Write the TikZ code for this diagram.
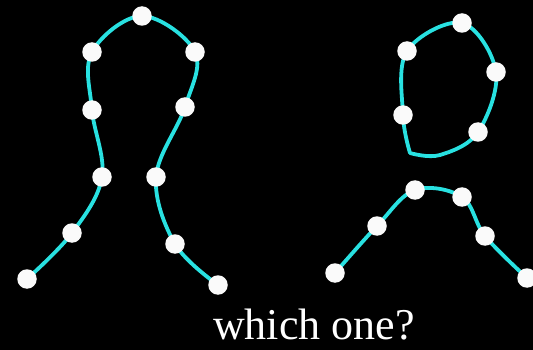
\documentclass[tikz,border=0pt]{standalone}
\usepackage{fontspec}
\setmainfont{Liberation Serif}
\usepackage{tikz}
\usetikzlibrary{positioning}
\definecolor{bg}{RGB}{0,0,0}
\definecolor{wire}{RGB}{40,225,225}
\definecolor{knot}{RGB}{250,250,250}
\tikzset{
  curve/.style={draw=wire,line width=3.8pt,line cap=round,line join=round},
  knotdot/.style={circle,fill=knot,inner sep=0pt,minimum size=19.5pt},
  lbl/.style={text=white,font=\fontsize{44}{50}\selectfont,inner sep=0pt},
}

\begin{document}
\begin{tikzpicture}[x=1pt,y=-1pt]
  \fill[bg] (0,0) rectangle (533,350);
  \useasboundingbox (0,0) rectangle (533,350);
  % left figure: one long stroke
  \foreach \n/\p in {l1/{27,279},l2/{72,233},l3/{102,177},l4/{92,110},l5/{92,52},
      l6/{142,16},l7/{195,52},l8/{185,107},l9/{156,177},l10/{175,244},l11/{218,285}}
    \coordinate (\n) at (\p);
  % right figure: head loop and shoulders
  \foreach \n/\p in {h1/{462,23},h2/{407,51},h3/{403,115},h4/{478,132},h5/{496,72},
      s1/{335,273},s2/{377,226},s3/{415,190},s4/{462,197},s5/{485,236},s6/{527,278}}
    \coordinate (\n) at (\p);
  \coordinate (hc) at (410,153);
  \coordinate (hb) at (440,155);
  \draw[curve] plot[smooth,tension=0.6] coordinates
    {(l1) (l2) (l3) (l4) (l5) (l6) (l7) (l8) (l9) (l10) (l11)};
  \draw[curve] plot[smooth,tension=0.6] coordinates
    {(hc) (h3) (h2) (h1) (h5) (h4) (hb) (hc)};
  \draw[curve] plot[smooth,tension=0.6] coordinates
    {(s1) (s2) (s3) (s4) (s5) (s6)};
  \foreach \n in {l1,l2,l3,l4,l5,l6,l7,l8,l9,l10,l11,h1,h2,h3,h4,h5,s1,s2,s3,s4,s5,s6}
    \node[knotdot] (d\n) at (\n) {};
  \node[lbl,anchor=base] (q) at (314,339) {which one?};
\end{tikzpicture}
\end{document}
